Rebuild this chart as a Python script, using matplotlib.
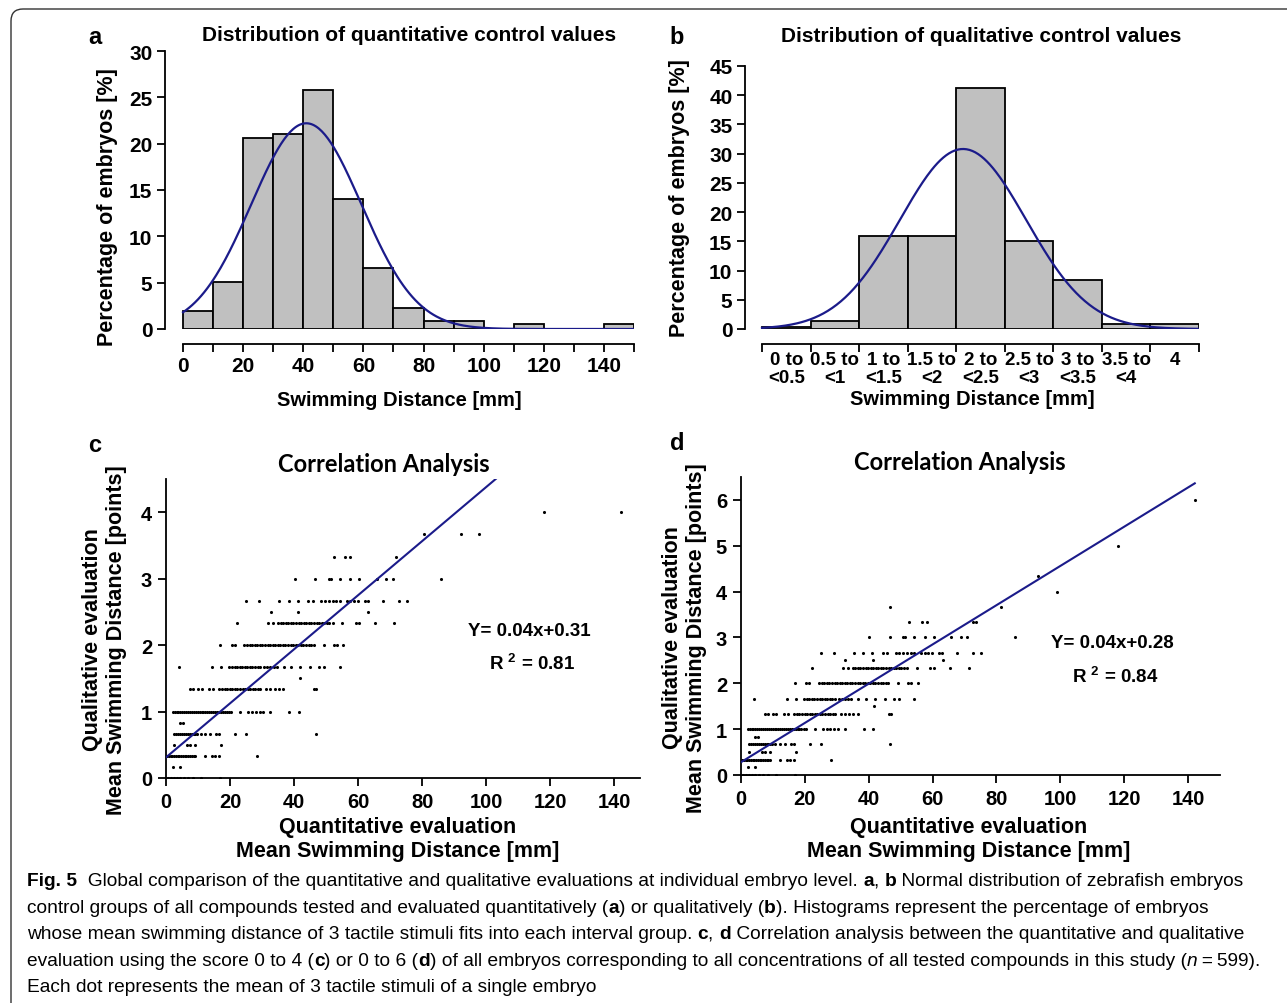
import numpy as np
import matplotlib
matplotlib.use("Agg")
import matplotlib.pyplot as plt
from matplotlib.patches import FancyBboxPatch
from matplotlib.transforms import IdentityTransform

plt.rcParams['font.family'] = ['Liberation Sans', 'DejaVu Sans']
plt.rcParams['mathtext.fontset'] = 'custom'
plt.rcParams['mathtext.rm'] = 'Liberation Sans:bold'
plt.rcParams['mathtext.bf'] = 'Liberation Sans:bold'

# ---- panel a: quantitative histogram ----
a_edges = [0, 10, 20, 30, 40, 50, 60, 70, 80, 90, 100, 110, 120, 130, 140, 150]
a_values = [1.9, 5.1, 20.6, 21.0, 25.8, 14.0, 6.6, 2.3, 0.9, 0.9, 0.0, 0.5, 0.0, 0.0, 0.5]
a_fit = dict(mu=41.0, sigma=18.3, peak=22.2)

# ---- panel b: qualitative histogram ----
b_edges = [0, 0.5, 1.0, 1.5, 2.0, 2.5, 3.0, 3.5, 4.0, 4.5]
b_values = [0.4, 1.3, 15.9, 15.9, 41.2, 15.0, 8.4, 0.9, 0.9]
b_labels = ['0 to\n<0.5', '0.5 to\n<1', '1 to\n<1.5', '1.5 to\n<2', '2 to\n<2.5',
            '2.5 to\n<3', '3 to\n<3.5', '3.5 to\n<4', '4']
b_fit = dict(mu=2.07, sigma=0.65, peak=30.8)

# ---- panels c/d: per-embryo points, grouped by qualitative score level ----
levels_common = {
    0.0: [0.5, 1.5, 2.5, 3.5, 4.5, 5.5, 7.0, 8.5, 11.0, 16.8],
    1/6: [2.1, 4.4],
    1/3: [0.3, 0.9, 1.5, 2.0, 2.6, 3.1, 3.7, 4.2, 4.8, 5.3, 5.9, 6.4, 7.0, 7.5, 8.1, 8.6,
          9.1, 12.2, 14.3, 15.3, 16.7, 28.3],
    1/2: [2.6, 6.5, 7.5, 9.1, 17.2],
    2/3: [2.6, 3.2, 3.8, 4.4, 5.0, 5.6, 6.2, 6.8, 7.4, 8.0, 8.6, 9.2, 9.8, 10.8, 12.2,
          13.7, 15.6, 16.7, 21.6, 25.0, 46.7],
    5/6: [4.4, 5.2],
    1.0: [2.1, 2.7, 3.3, 3.9, 4.5, 5.1, 5.7, 6.3, 6.9, 7.5, 8.1, 8.7, 9.3, 9.9, 10.5, 11.1,
          11.7, 12.3, 12.9, 13.5, 14.1, 14.7, 15.3, 15.9, 16.5, 17.1, 17.7, 18.3, 18.9,
          19.6, 20.2, 23.1, 25.7, 26.9, 28.0, 29.2, 30.4, 32.5, 38.5, 41.4],
    4/3: [7.5, 8.5, 10.1, 11.1, 13.5, 14.8, 16.7, 17.5, 18.3, 19.1, 19.9, 20.7, 21.5, 22.3,
          23.1, 23.9, 24.7, 25.5, 26.3, 27.1, 27.9, 28.7, 29.4, 31.2, 32.5, 33.9, 35.2,
          36.5, 46.2, 46.9],
    3/2: [41.7],
    5/3: [4.1, 14.5, 17.1, 19.8, 20.6, 21.4, 22.2, 23.0, 23.8, 24.6, 25.4, 26.2, 27.0, 27.8,
          28.6, 29.4, 30.6, 31.6, 32.6, 33.6, 34.6, 36.7, 39.1, 41.9, 45.0, 47.9, 49.4, 54.2],
    2.0: [17.0, 20.5, 21.4, 24.5, 25.3, 26.1, 26.9, 27.7, 28.5, 29.3, 30.1, 30.9, 31.7, 32.5,
          33.3, 34.1, 34.9, 35.7, 36.5, 37.3, 38.1, 38.9, 39.7, 40.5, 41.3, 42.1, 42.9,
          43.7, 44.5, 45.3, 46.1, 49.2, 52.3, 53.3, 55.3],
    7/3: [22.2, 31.8, 33.4, 35.0, 35.8, 36.6, 37.4, 38.2, 39.0, 39.8, 40.6, 41.4, 42.2, 43.0,
          43.8, 44.6, 45.4, 46.2, 47.0, 47.8, 48.6, 49.4, 50.2, 51.0, 52.0, 55.0, 59.3,
          60.4, 65.4, 71.3],
    5/2: [32.7, 41.3, 63.2],
    8/3: [25.0, 29.0, 35.4, 38.3, 41.1, 44.4, 45.8, 48.4, 49.6, 50.8, 52.0, 53.1, 54.2, 56.5,
          57.6, 58.7, 59.8, 62.0, 63.0, 67.7, 72.7, 75.3],
    3.0: [40.2, 46.6, 50.8, 51.4, 54.2, 57.6, 60.4, 65.8, 68.8, 70.8, 85.9],
}
levels_c_high = {
    10/3: [52.3, 55.9, 57.4, 71.8],
    11/3: [80.6, 92.1, 97.8],
    4.0: [118.0, 142.0],
}
levels_d_high = {
    10/3: [52.5, 56.7, 58.1, 72.6, 73.5],
    11/3: [46.8, 81.3],
    4.0: [98.9],
    13/3: [92.9],
    5.0: [118.1],
    6.0: [142.1],
}
c_fit = dict(slope=0.0407, intercept=0.31, eq='Y= 0.04x+0.31', r2='0.81')
d_fit = dict(slope=0.0428, intercept=0.28, eq='Y= 0.04x+0.28', r2='0.84')

W, H = 1287, 1004
NAVY = '#1b1b8a'
fig = plt.figure(figsize=(W / 100, H / 100), dpi=100)


def px_axes(left, top, right, bottom):
    # axes from pixel box (origin top-left like the reference)
    return fig.add_axes([left / W, 1 - bottom / H, (right - left) / W, (bottom - top) / H])


def style_hist(ax):
    for s in ['top', 'right']:
        ax.spines[s].set_visible(False)
    ax.spines['bottom'].set_position(('outward', 10.5))
    ax.spines['left'].set_linewidth(1.3)
    ax.spines['bottom'].set_linewidth(1.3)
    ax.tick_params(direction='out', length=6, width=1.3, labelsize=15, pad=3)
    for lab in ax.get_xticklabels() + ax.get_yticklabels():
        lab.set_fontweight('bold')


def normal_curve(x, mu, sigma, peak):
    return peak * np.exp(-(x - mu) ** 2 / (2 * sigma ** 2))


# ---------------- a ----------------
ax = px_axes(165, 52, 634, 330)
ax.bar(a_edges[:-1], a_values, width=np.diff(a_edges), align='edge',
       color='#c0c0c0', edgecolor='black', linewidth=1.3)
xs = np.linspace(a_edges[0], a_edges[-1], 300)
ax.plot(xs, normal_curve(xs, **a_fit), color=NAVY, lw=1.6)
ax.set_xlim(-6, 150)
ax.set_ylim(0, 30)
ax.set_yticks(range(0, 31, 5))
ax.set_xticks(a_edges, [str(v) if v % 20 == 0 and v < 150 else '' for v in a_edges])
ax.spines['left'].set_bounds(0, 30)
ax.spines['bottom'].set_bounds(0, 150)
style_hist(ax)
ax.set_ylabel('Percentage of embryos [%]', fontsize=15.5, fontweight='bold')
ax.yaxis.set_label_coords(-0.101, 0.442)
ax.set_xlabel('Swimming Distance [mm]', fontsize=14.5, fontweight='bold', labelpad=11)
ax.set_title('Distribution of quantitative control values', fontsize=15,
             fontweight='bold', pad=8, x=0.52)

# ---------------- b ----------------
ax = px_axes(745, 67, 1199, 330)
ax.bar(b_edges[:-1], b_values, width=np.diff(b_edges), align='edge',
       color='#c0c0c0', edgecolor='black', linewidth=1.3)
xs = np.linspace(b_edges[0], b_edges[-1], 300)
ax.plot(xs, normal_curve(xs, **b_fit), color=NAVY, lw=1.6)
ax.set_xlim(-0.175, 4.5)
ax.set_ylim(0, 45)
ax.set_yticks(range(0, 46, 5))
ax.set_xticks(b_edges, [''] * len(b_edges))
centers = [(b_edges[i] + b_edges[i + 1]) / 2 for i in range(len(b_values))]
ax.set_xticks(centers, b_labels, minor=True)
ax.spines['left'].set_bounds(0, 45)
ax.spines['bottom'].set_bounds(0, 4.5)
style_hist(ax)
ax.tick_params(axis='x', which='minor', length=0, labelsize=13.5, pad=5)
for lab in ax.get_xticklabels(minor=True):
    lab.set_fontweight('bold')
    lab.set_linespacing(1.15)
    lab.set_verticalalignment('top')
ax.set_ylabel('Percentage of embryos [%]', fontsize=15.5, fontweight='bold')
ax.yaxis.set_label_coords(-0.121, 0.5)
ax.set_xlabel('Swimming Distance [mm]', fontsize=14.5, fontweight='bold', labelpad=1.5)
ax.set_title('Distribution of qualitative control values', fontsize=15,
             fontweight='bold', pad=18, x=0.52)


# ---------------- c / d ----------------
def scatter_panel(box, levels, fit, xlim, ylim, yticks, eq_xy, title_x, ylab_xy, xlab_x, xlab_pad):
    ax = px_axes(*box)
    all_x = []
    for lvl, xvals in levels.items():
        ax.scatter(xvals, [lvl] * len(xvals), s=5, color='black', linewidths=0, zorder=2)
        all_x += xvals
    xl = np.array([0, max(all_x)])
    ax.plot(xl, fit['slope'] * xl + fit['intercept'], color=NAVY, lw=1.5, zorder=3)
    ax.set_xlim(*xlim)
    ax.set_ylim(*ylim)
    ax.set_xticks(range(0, 141, 20))
    ax.set_yticks(yticks)
    for s in ['top', 'right']:
        ax.spines[s].set_visible(False)
    for s in ['left', 'bottom']:
        ax.spines[s].set_linewidth(1.3)
    ax.tick_params(direction='out', length=6, width=1.3, labelsize=14.5, pad=4)
    for lab in ax.get_xticklabels() + ax.get_yticklabels():
        lab.set_fontweight('bold')
    ax.set_title('Correlation Analysis', family='Lato', fontweight='bold', fontsize=17,
                 pad=6, x=title_x)
    ax.set_xlabel('Quantitative evaluation\nMean Swimming Distance [mm]', fontsize=15.5,
                  fontweight='bold', linespacing=1.23, labelpad=xlab_pad)
    ax.xaxis.label.set_x(xlab_x)
    ax.set_ylabel('Qualitative evaluation\nMean Swimming Distance [points]', fontsize=15.5,
                  fontweight='bold', linespacing=1.2)
    ax.yaxis.set_label_coords(*ylab_xy)
    ax.text(*eq_xy[0], fit['eq'], transform=ax.transAxes, fontsize=13.5,
            fontweight='bold', ha='left', va='center')
    ax.text(*eq_xy[1], r'R $^{\mathbf{2}}$ = ' + fit['r2'], transform=ax.transAxes,
            fontsize=13.5, fontweight='bold', ha='left', va='center')
    return ax


scatter_panel((166, 480, 640, 779), {**levels_common, **levels_c_high}, c_fit,
              (0, 148), (0, 4.5), range(0, 5),
              [((468 - 166) / 474, (779 - 631) / 299), ((489 - 166) / 474, (779 - 664) / 299)],
              0.46, (-0.082, 0.465), 0.488, 3.5)
scatter_panel((741, 478, 1220, 776), {**levels_common, **levels_d_high}, d_fit,
              (0, 150), (0, 6.5), range(0, 7),
              [((1051 - 741) / 479, (776 - 643) / 298), ((1072 - 741) / 479, (776 - 677) / 298)],
              0.457, (-0.071, 0.463), 0.475, 5.5)

# panel letters
for letter, (x, y) in zip('abcd', [(95, 38), (677, 38), (95, 446), (677, 444)]):
    fig.text(x / W, 1 - y / H, letter, fontsize=17, fontweight='bold', ha='center', va='center')

# rounded frame around the figure
frame = FancyBboxPatch((11, -40), 1400, H - 10 + 40, boxstyle='round,pad=0,rounding_size=12',
                       transform=IdentityTransform(), facecolor='none', edgecolor='#333333',
                       linewidth=1.0)
fig.add_artist(frame)

# caption with mixed bold / italic runs
CAP_FAMILY = ['Liberation Sans']
caption = [
    [('Fig. 5', 'bold', 'normal'),
     ('  Global comparison of the quantitative and qualitative evaluations at individual embryo level. ', 'normal', 'normal'),
     ('a', 'bold', 'normal'), (', ', 'normal', 'normal'), ('b', 'bold', 'normal'),
     (' Normal distribution of zebrafish embryos', 'normal', 'normal')],
    [('control groups of all compounds tested and evaluated quantitatively (', 'normal', 'normal'),
     ('a', 'bold', 'normal'), (') or qualitatively (', 'normal', 'normal'), ('b', 'bold', 'normal'),
     ('). Histograms represent the percentage of embryos', 'normal', 'normal')],
    [('whose mean swimming distance of 3 tactile stimuli fits into each interval group. ', 'normal', 'normal'),
     ('c', 'bold', 'normal'), (', ', 'normal', 'normal'), ('d', 'bold', 'normal'),
     (' Correlation analysis between the quantitative and qualitative', 'normal', 'normal')],
    [('evaluation using the score 0 to 4 (', 'normal', 'normal'), ('c', 'bold', 'normal'),
     (') or 0 to 6 (', 'normal', 'normal'), ('d', 'bold', 'normal'),
     (') of all embryos corresponding to all concentrations of all tested compounds in this study (', 'normal', 'normal'),
     ('n', 'normal', 'italic'), ('\u2009=\u2009599).', 'normal', 'normal')],
    [('Each dot represents the mean of 3 tactile stimuli of a single embryo', 'normal', 'normal')],
]
renderer = fig.canvas.get_renderer()
for i, parts in enumerate(caption):
    x = 27
    y = H - (882 + i * 26.5)
    for s, weight, style in parts:
        t = fig.text(x / W, y / H, s, fontsize=13.8, family=CAP_FAMILY, weight=weight,
                     style=style, va='center', ha='left')
        x += t.get_window_extent(renderer).width

fig.savefig('out.png', dpi=100)
